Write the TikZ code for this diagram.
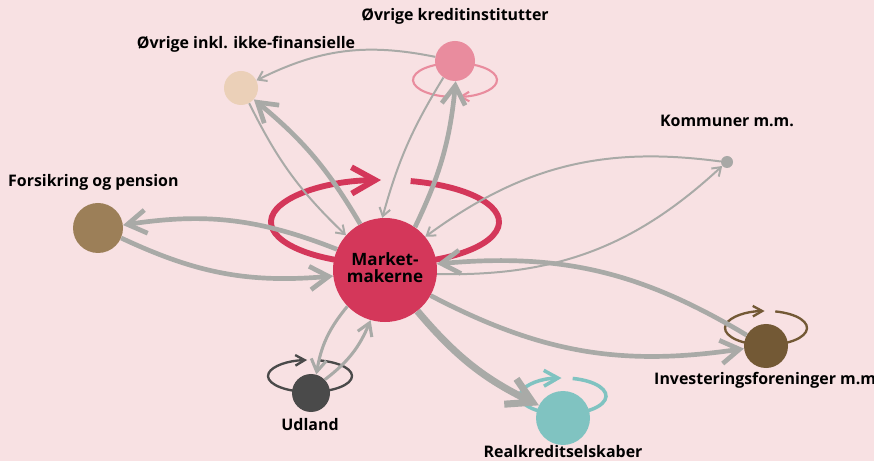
\documentclass[tikz,border=0pt]{standalone}
\usepackage{fontspec}
\setmainfont{Open Sans}
\usetikzlibrary{arrows.meta}

\definecolor{bgpink}{HTML}{F8E1E3}
\definecolor{flowgray}{HTML}{A9AAA7}
\definecolor{mmred}{HTML}{D4375A}
\definecolor{okpink}{HTML}{E98C9E}
\definecolor{oibeige}{HTML}{EBD0B8}
\definecolor{kogray}{HTML}{A8A8A6}
\definecolor{fpbrown}{HTML}{9C7F58}
\definecolor{invbrown}{HTML}{735935}
\definecolor{uddark}{HTML}{4A4A4A}
\definecolor{rkteal}{HTML}{80C3C1}

\begin{document}
\begin{tikzpicture}
				[x=0.03cm,y=-0.03cm,
				every node/.style={font=\fontsize{13.6}{15}\selectfont\bfseries},
				dot/.style={circle, inner sep=0pt},
				lbl/.style={text=black, inner sep=0pt},
				ringline/.style={-{Straight Barb[length=0pt 4,width=0pt 4.5]}},
				flowthin/.style={draw=flowgray, line width=1.7pt,
				-{Straight Barb[length=0pt 4,width=0pt 5.5]}},
				flowmid/.style={draw=flowgray, line width=2.6pt,
				-{Straight Barb[length=0pt 4,width=0pt 5]}},
				flowthick/.style={draw=flowgray, line width=4pt,
				-{Straight Barb[length=0pt 4,width=0pt 5]}},
				flowheavy/.style={draw=flowgray, line width=6pt,
				-{Straight Barb[length=0pt 3.5,width=0pt 4]}}]
				\clip (0,0) rectangle (874,461);
				\fill[bgpink] (0,0) rectangle (874,461);

				% loops
				\foreach \cx/\cy/\rx/\ry/\tip/\col/\lw in {385/222/114/42/268/mmred/5pt,
				455/80/42/17/85/okpink/1.8pt, 310/376/42/16/266/uddark/2pt,
				766/328/41/17/268/invbrown/2pt, 563/396/43/18/268/rkteal/3pt}
				{
				\pgfmathsetmacro{\st}{\tip-345}
				\draw[ringline, draw=\col, line width=\lw] (\cx,\cy) ++(\st:{\rx} and {\ry})
				arc[start angle=\st, end angle=\tip, x radius=\rx, y radius=\ry];
				}

				\node[dot, fill=mmred, minimum size=3.12cm, font=\fontsize{14.5}{15}\selectfont\bfseries]
				(mm) at (385,270)
				{\begin{tabular}{@{}c@{}}Market-\\[-1pt]makerne\end{tabular}};
				\node[dot, fill=okpink, minimum size=1.2cm] (ok) at (455,61) {};
				\node[dot, fill=oibeige, minimum size=1.02cm] (oi) at (241,88) {};
				\node[dot, fill=kogray, minimum size=0.36cm] (ko) at (727,162) {};
				\node[dot, fill=fpbrown, minimum size=1.5cm] (fp) at (98,228) {};
				\node[dot, fill=invbrown, minimum size=1.32cm] (inv) at (766,346) {};
				\node[dot, fill=uddark, minimum size=1.14cm] (ud) at (311,393) {};
				\node[dot, fill=rkteal, minimum size=1.62cm] (rk) at (563,418) {};

				\node[lbl] (ok-lbl) at (455,16) {Øvrige kreditinstitutter};
				\node[lbl] (oi-lbl) at (246,44) {Øvrige inkl. ikke-finansielle};
				\node[lbl] (ko-lbl) at (727,121) {Kommuner m.m.};
				\node[lbl, anchor=west] (fp-lbl) at (8,182) {Forsikring og pension};
				\node[lbl, anchor=west] (inv-lbl) at (654,380) {Investeringsforeninger m.m.};
				\node[lbl] (ud-lbl) at (310,425) {Udland};
				\node[lbl] (rk-lbl) at (563,452) {Realkreditselskaber};

				\foreach \from/\to/\kind/\b in {ok/oi/flowthin/19,
				oi/mm/flowthin/10, mm/oi/flowthick/10,
				ok.235/mm.93/flowthin/8, mm.55/ok.272/flowthick/10,
				ko/mm/flowthin/22, mm/ko/flowthin/22,
				fp/mm/flowthick/15, mm/fp/flowthick/15,
				inv/mm/flowthick/18, mm/inv/flowthick/18,
				ud/mm/flowmid/15, mm/ud/flowmid/15,
				mm/rk/flowheavy/12}
				\draw[\kind] (\from) to[bend right=\b] (\to);
			\end{tikzpicture}
\end{document}
